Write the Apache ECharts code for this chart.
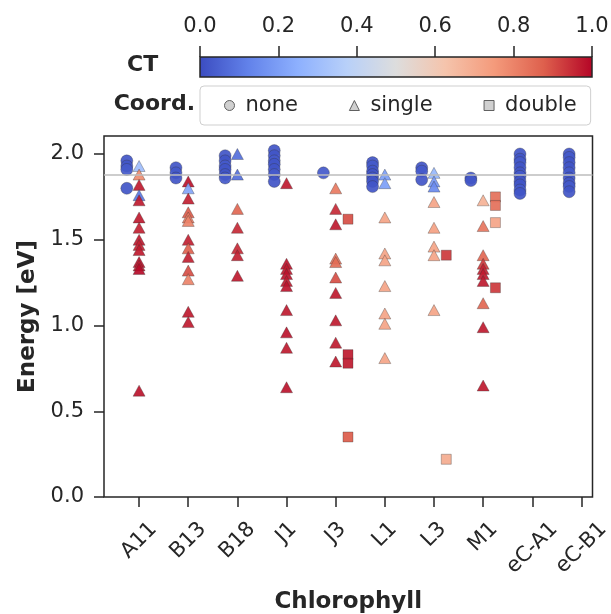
<!DOCTYPE html>
<html><head><meta charset="utf-8">
<script src="https://cdn.jsdelivr.net/npm/echarts@6/dist/echarts.min.js"></script>
<style>html,body{margin:0;padding:0;background:#fff}#c{width:611px;height:614px}</style>
</head><body><div id="c"></div>
<script>
// ---- data ----
const categories = ['A11','B13','B18','J1','J3','L1','L3','M1','eC-A1','eC-B1'];
const noneEnergy = [
  [1.96,1.93,1.91,1.80],
  [1.92,1.89,1.86],
  [1.99,1.96,1.93,1.91,1.88,1.86],
  [2.02,1.99,1.96,1.94,1.91,1.88,1.84],
  [1.89],
  [1.95,1.93,1.90,1.88,1.86,1.84,1.81],
  [1.92,1.90,1.85],
  [1.86,1.845],
  [2.00,1.97,1.95,1.92,1.89,1.87,1.84,1.82,1.79,1.77],
  [2.00,1.98,1.95,1.92,1.89,1.86,1.83,1.81,1.78]
];
const noneCT = [
  [0.02,0.02,0.03,0.02],
  [0.02,0.03,0.02],
  [0.02,0.02,0.03,0.02,0.02,0.03],
  [0.02,0.02,0.03,0.02,0.02,0.03,0.02],
  [0.03],
  [0.02,0.03,0.02,0.02,0.03,0.02,0.02],
  [0.02,0.03,0.02],
  [0.03,0.02],
  [0.02,0.02,0.03,0.02,0.02,0.03,0.02,0.02,0.03,0.02],
  [0.02,0.03,0.02,0.02,0.03,0.02,0.02,0.03,0.02]
];
const singleEnergy = [
  [1.93,1.88,1.82,1.76,1.73,1.63,1.57,1.50,1.47,1.44,1.37,1.35,1.33,0.62],
  [1.84,1.80,1.74,1.66,1.63,1.61,1.50,1.45,1.40,1.32,1.27,1.08,1.02],
  [2.00,1.88,1.68,1.57,1.45,1.41,1.29],
  [1.83,1.36,1.33,1.30,1.26,1.23,1.09,0.96,0.87,0.64],
  [1.80,1.68,1.59,1.39,1.37,1.28,1.19,1.03,0.90,0.79],
  [1.88,1.83,1.63,1.42,1.38,1.23,1.07,1.01,0.81],
  [1.89,1.84,1.81,1.72,1.57,1.46,1.41,1.09],
  [1.73,1.58,1.41,1.36,1.33,1.30,1.26,1.13,0.99,0.65],
  [],
  []
];
const singleCT = [
  [0.30,0.78,0.97,0.10,0.97,0.97,0.96,0.97,0.96,0.97,0.98,0.97,0.99,0.98],
  [0.98,0.22,0.96,0.88,0.82,0.80,0.96,0.87,0.96,0.90,0.80,0.97,0.97],
  [0.08,0.08,0.86,0.95,0.95,0.96,0.97],
  [0.97,0.98,0.97,0.98,0.97,0.98,0.97,0.98,0.97,0.98],
  [0.82,0.95,0.97,0.83,0.85,0.90,0.97,0.97,0.97,0.97],
  [0.20,0.20,0.72,0.72,0.72,0.72,0.72,0.72,0.72],
  [0.28,0.18,0.15,0.72,0.73,0.72,0.72,0.72],
  [0.68,0.83,0.86,0.93,0.96,0.97,0.97,0.86,0.97,0.97],
  [],
  []
];
const doubleEnergy = [[],[],[],[],[1.62,0.83,0.78,0.35],[],[1.41,0.22],[1.75,1.70,1.60,1.22],[],[]];
const doubleCT     = [[],[],[],[],[0.90,0.97,0.97,0.88],[],[0.93,0.70],[0.84,0.84,0.72,0.93],[],[]];
const energyTicks = [0, 0.5, 1.0, 1.5, 2.0];
const ctTicks = [0, 0.2, 0.4, 0.6, 0.8, 1.0];
const refEnergy = 1.88;
const coordNames = ['none','single','double'];

// ---- styling ----
const FONT = 'DejaVu Sans';
const INK = '#262626';
const coolwarm = ['#3b4cc0','#6282ea','#8db0fe','#b8d0f9','#dddddd','#f5c4ac','#f49a7b','#de604d','#b40426'];
const dodge = {none: -0.25, single: 0, double: 0.25};
const symbols = {none: 'circle', single: 'triangle', double: 'rect'};
const sizes = {none: 12, single: [12, 11], double: 10};

function build(energy, ct, off) {
  const out = [];
  energy.forEach((arr, i) => arr.forEach((e, j) => out.push([i + off, e, ct[i][j]])));
  return out;
}
const dataBy = {
  none: build(noneEnergy, noneCT, dodge.none),
  single: build(singleEnergy, singleCT, dodge.single),
  double: build(doubleEnergy, doubleCT, dodge.double)
};

// label widths for matplotlib-like centred rotated labels
const ctx = document.createElement('canvas').getContext('2d');
const LBL = 21;
ctx.font = LBL + 'px "' + FONT + '"';
const rich = {};
categories.forEach((c, i) => {
  const w = ctx.measureText(c).width;
  const p = 0.5 * w;
  rich['k' + i] = {padding: [p, p, 0, 0], fontSize: LBL, fontFamily: FONT, color: INK};
});

const chart = echarts.init(document.getElementById('c'), null, {renderer: 'canvas'});
const stops = coolwarm.map((c, i) => ({offset: i / (coolwarm.length - 1), color: c}));

const series = coordNames.map(n => ({
  name: n, type: 'scatter', xAxisIndex: 0, yAxisIndex: 0,
  symbol: symbols[n], symbolSize: sizes[n], z: 3,
  itemStyle: {opacity: 0.92, borderColor: 'rgba(50,50,50,0.5)', borderWidth: 0.7},
  emphasis: {disabled: true},
  data: dataBy[n]
}));
series.unshift({
  name: 'ref', type: 'line', xAxisIndex: 0, yAxisIndex: 0, data: [], z: 1,
  markLine: {silent: true, symbol: 'none', label: {show: false},
    lineStyle: {color: '#bdbdbd', width: 1.6, type: 'solid'},
    data: [{yAxis: refEnergy}]}
});

const option = {
  backgroundColor: '#fff',
  animation: false,
  textStyle: {fontFamily: FONT},
  grid: [
    {left: 104, right: 18.5, top: 136, bottom: 117, show: true, borderColor: INK, borderWidth: 1.5,
     backgroundColor: 'transparent', outerBoundsMode: 'none'},
    {left: 200, width: 392, top: 57, height: 20, show: true, borderColor: INK, borderWidth: 1.5,
     backgroundColor: new echarts.graphic.LinearGradient(0, 0, 1, 0, stops), outerBoundsMode: 'none'}
  ],
  xAxis: [
    {type: 'value', gridIndex: 0, min: -0.714, max: 9.225,
     name: 'Chlorophyll', nameLocation: 'middle', nameGap: 94,
     nameTextStyle: {fontSize: 23, fontWeight: 'bold', color: INK, fontFamily: FONT},
     axisLine: {show: false, onZero: false}, splitLine: {show: false},
     axisTick: {show: true, length: 10, lineStyle: {color: INK, width: 1.5},
                customValues: categories.map((c, i) => i)},
     axisLabel: {show: true, rotate: 45, align: 'center', verticalAlign: 'middle', margin: 29,
                 customValues: categories.map((c, i) => i), rich: rich,
                 formatter: v => { const i = Math.round(v); return '{k' + i + '|' + categories[i] + '}'; }}},
    {type: 'value', gridIndex: 1, position: 'top', min: 0, max: 1,
     axisLine: {show: false, onZero: false}, splitLine: {show: false},
     axisTick: {show: true, length: 11, lineStyle: {color: INK, width: 1.5}, customValues: ctTicks},
     axisLabel: {show: true, margin: 20, fontSize: LBL, color: INK, fontFamily: FONT,
                 customValues: ctTicks, formatter: v => v.toFixed(1)}}
  ],
  yAxis: [
    {type: 'value', gridIndex: 0, min: 0, max: 2.105,
     name: 'Energy [eV]', nameLocation: 'middle', nameGap: 60,
     nameTextStyle: {fontSize: 23, fontWeight: 'bold', color: INK, fontFamily: FONT},
     axisLine: {show: false, onZero: false}, splitLine: {show: false},
     axisTick: {show: true, length: 10, lineStyle: {color: INK, width: 1.5}, customValues: energyTicks},
     axisLabel: {show: true, margin: 20, fontSize: LBL, color: INK, fontFamily: FONT,
                 customValues: energyTicks, formatter: v => v.toFixed(1)}},
    {type: 'value', gridIndex: 1, min: 0, max: 1, show: false, axisLine: {onZero: false}}
  ],
  visualMap: {type: 'continuous', show: false, min: 0, max: 1, dimension: 2,
              seriesIndex: [1, 2, 3], inRange: {color: coolwarm}},
  legend: {
    data: coordNames.map(n => ({name: n, icon: symbols[n]})),
    left: 200, top: 86, orient: 'horizontal',
    padding: [9, 14, 9, 24], itemGap: 51, itemWidth: 10, itemHeight: 10,
    backgroundColor: 'rgba(255,255,255,0.8)', borderColor: '#cfcfcf', borderWidth: 1, borderRadius: 4,
    itemStyle: {color: '#cccccc', borderColor: '#555', borderWidth: 1},
    textStyle: {fontSize: LBL, color: INK, fontFamily: FONT, padding: [0, 0, 0, 6]},
    selectedMode: false
  },
  graphic: [
    {type: 'text', left: 127, top: 54, style: {text: 'CT', fontSize: 22, fontWeight: 'bold', fill: INK, fontFamily: FONT}},
    {type: 'text', right: 611 - 195, top: 93, style: {text: 'Coord.', fontSize: 22, fontWeight: 'bold', fill: INK, fontFamily: FONT, textAlign: 'right'}}
  ],
  series: series
};
chart.setOption(option);
</script>
</body></html>
